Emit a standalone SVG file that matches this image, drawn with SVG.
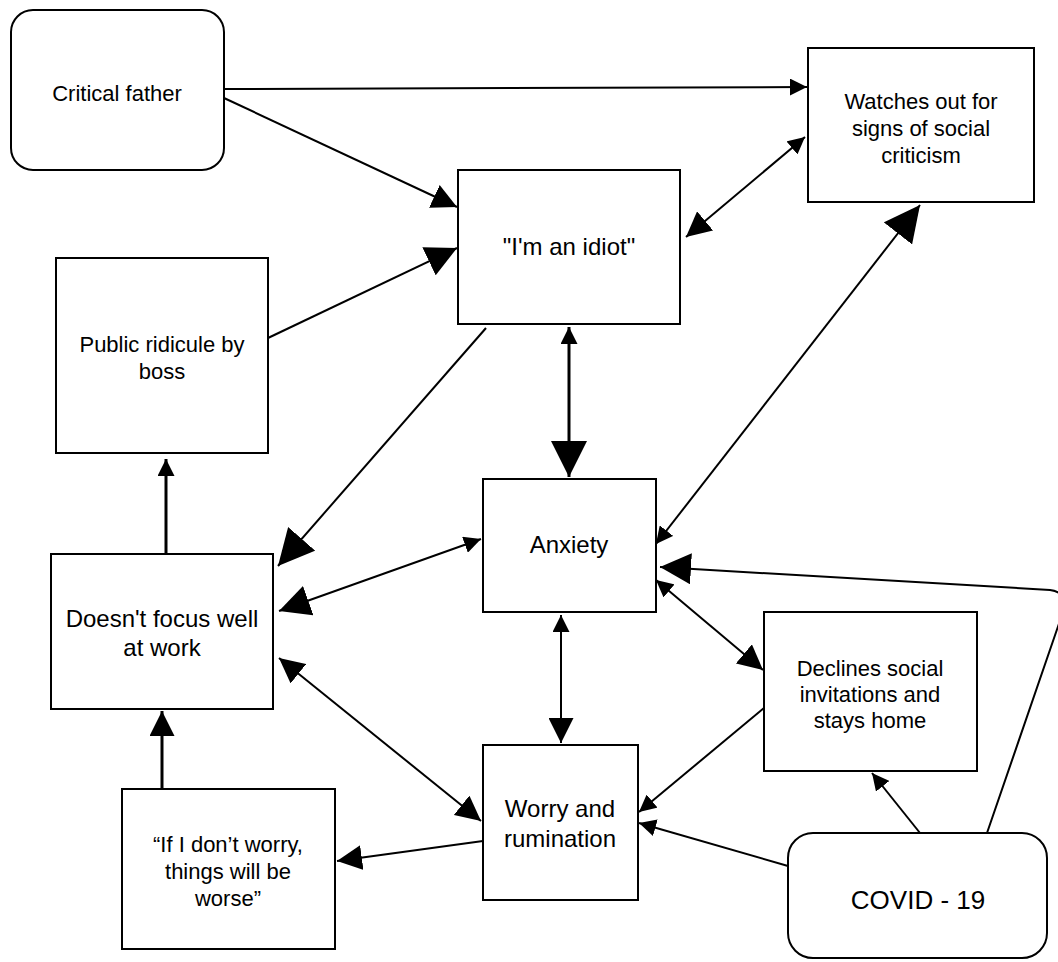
<svg xmlns="http://www.w3.org/2000/svg" width="1058" height="962" viewBox="0 0 1058 962">
<style>
.box{fill:#fff;stroke:#000;stroke-width:2}
.t{font-family:"Liberation Sans",Arial,sans-serif;fill:#000;text-anchor:middle}
.s22{font-size:22px}.s24{font-size:24px}.s26{font-size:26px}
.c{fill:none;stroke:#000;stroke-width:2}
.c3{stroke-width:3}
</style>
<defs>
<marker id="sm" markerUnits="userSpaceOnUse" markerWidth="17" markerHeight="17" refX="17" refY="8.5" orient="auto-start-reverse"><path d="M0,0 L17,8.5 L0,17 Z" fill="#000"/></marker>
<marker id="md" markerUnits="userSpaceOnUse" markerWidth="25" markerHeight="25" refX="25" refY="12.5" orient="auto-start-reverse"><path d="M0,0 L25,12.5 L0,25 Z" fill="#000"/></marker>
<marker id="lg" markerUnits="userSpaceOnUse" markerWidth="31" markerHeight="31" refX="31" refY="15.5" orient="auto-start-reverse"><path d="M0,0 L31,15.5 L0,31 Z" fill="#000"/></marker>
<marker id="xl" markerUnits="userSpaceOnUse" markerWidth="36" markerHeight="36" refX="36" refY="18" orient="auto-start-reverse"><path d="M0,0 L36,18 L0,36 Z" fill="#000"/></marker>
</defs>
<g id="connectors">
<path class="c" d="M224,89 L807,87" marker-end="url(#sm)"/>
<path class="c" d="M224,98 L457,207" marker-end="url(#md)"/>
<path class="c" d="M268,338 L457,248" marker-end="url(#lg)"/>
<path class="c" d="M686,237 L805,137" marker-start="url(#md)" marker-end="url(#sm)"/>
<path class="c" d="M656,544 L920,205" marker-start="url(#sm)" marker-end="url(#xl)"/>
<path class="c" d="M486,328 L278,566" marker-end="url(#xl)"/>
<path class="c c3" d="M569,327 L569,477" marker-start="url(#sm)" marker-end="url(#xl)"/>
<path class="c c3" d="M166,554 L166,459" marker-end="url(#sm)"/>
<path class="c" d="M481,539 L279,611" marker-start="url(#sm)" marker-end="url(#lg)"/>
<path class="c" d="M561,615 L561,743" marker-start="url(#sm)" marker-end="url(#md)"/>
<path class="c" d="M656,580 L763,670" marker-start="url(#sm)" marker-end="url(#md)"/>
<path class="c" d="M764,708 L639,812" marker-end="url(#sm)"/>
<path class="c" d="M788,866 L639,823" marker-end="url(#sm)"/>
<path class="c" d="M920,833 L872,773" marker-end="url(#sm)"/>
<path class="c" d="M987,833 L1063,612 Q1068,592 1050,590 L660,567" marker-end="url(#lg)"/>
<path class="c" d="M483,841 L337,861" marker-end="url(#md)"/>
<path class="c c3" d="M162,789 L162,711" marker-end="url(#md)"/>
<path class="c" d="M279,658 L481,821" marker-start="url(#md)" marker-end="url(#md)"/>
</g>
<g id="critical-father">
<rect class="box" x="11" y="10" width="213" height="160" rx="22"/>
<text class="t s22" x="117" y="101">Critical father</text>
</g>
<g id="watches">
<rect class="box" x="808" y="48" width="226" height="154"/>
<text class="t s22" x="921" y="109">Watches out for</text>
<text class="t s22" x="921" y="136">signs of social</text>
<text class="t s22" x="921" y="163">criticism</text>
</g>
<g id="idiot">
<rect class="box" x="458" y="170" width="222" height="154"/>
<text class="t s24" x="569" y="255">"I'm an idiot"</text>
</g>
<g id="public-ridicule">
<rect class="box" x="56" y="258" width="212" height="195"/>
<text class="t s22" x="162" y="352">Public ridicule by</text>
<text class="t s22" x="162" y="379">boss</text>
</g>
<g id="anxiety">
<rect class="box" x="483" y="479" width="173" height="133"/>
<text class="t s24" x="569" y="553">Anxiety</text>
</g>
<g id="doesnt-focus">
<rect class="box" x="51" y="554" width="222" height="155"/>
<text class="t s24" x="162" y="627">Doesn't focus well</text>
<text class="t s24" x="162" y="656">at work</text>
</g>
<g id="declines">
<rect class="box" x="764" y="612" width="213" height="159"/>
<text class="t s22" x="870" y="676">Declines social</text>
<text class="t s22" x="870" y="702">invitations and</text>
<text class="t s22" x="870" y="728">stays home</text>
</g>
<g id="worry">
<rect class="box" x="483" y="745" width="155" height="155"/>
<text class="t s24" x="560" y="817">Worry and</text>
<text class="t s24" x="560" y="847">rumination</text>
</g>
<g id="if-i-dont-worry">
<rect class="box" x="122" y="789" width="213" height="160"/>
<text class="t s22" x="228" y="852">“If I don’t worry,</text>
<text class="t s22" x="228" y="879">things will be</text>
<text class="t s22" x="228" y="906">worse”</text>
</g>
<g id="covid">
<rect class="box" x="788" y="833" width="259" height="125" rx="25"/>
<text class="t s26" x="918" y="909">COVID - 19</text>
</g>
</svg>
